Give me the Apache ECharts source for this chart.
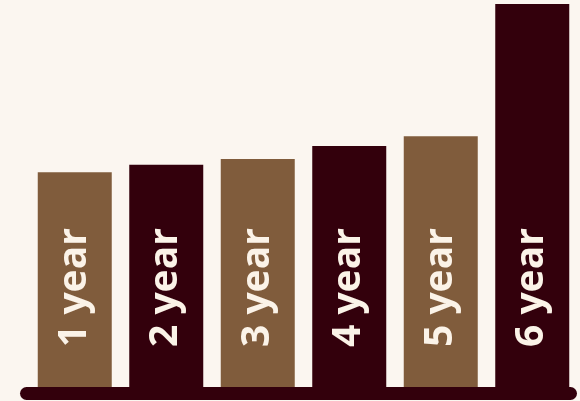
<!DOCTYPE html>
<html><head><meta charset="utf-8">
<script src="https://cdn.jsdelivr.net/npm/echarts@6/dist/echarts.min.js"></script>
<style>html,body{margin:0;padding:0;background:#fbf6f0;}#c{width:580px;height:401px;}</style>
</head><body><div id="c"></div>
<script>
const categories = ['1 year', '2 year', '3 year', '4 year', '5 year', '6 year'];
const values = [56.1, 58.0, 59.5, 62.9, 65.5, 100];
const barColors = ['#805c3c', '#33000c', '#805c3c', '#33000c', '#805c3c', '#33000c'];

const chart = echarts.init(document.getElementById('c'), null, {renderer: 'canvas'});
chart.setOption({
  backgroundColor: '#fbf6f0',
  animation: false,
  grid: {left: 29, right: 2, top: 4, bottom: 14},
  xAxis: {type: 'category', data: categories, axisLine: {show: false}, axisTick: {show: false}, axisLabel: {show: false}},
  yAxis: {type: 'value', min: 0, max: 100, show: false, splitLine: {show: false}},
  series: [{
    type: 'bar',
    barWidth: 74,
    data: values.map((v, i) => ({value: v, itemStyle: {color: barColors[i]}})),
    label: {
      show: true,
      position: 'insideBottom',
      rotate: 90,
      align: 'left',
      verticalAlign: 'middle',
      distance: 40,
      formatter: p => p.name,
      color: '#fbf3e8',
      fontFamily: 'Open Sans',
      fontWeight: 'bold',
      fontSize: 39
    }
  }],
  graphic: [{
    type: 'line',
    shape: {x1: 26.5, y1: 393.5, x2: 570.5, y2: 393.5},
    style: {stroke: '#33000c', lineWidth: 13, lineCap: 'round'},
    z: 10
  }]
});
</script></body></html>
